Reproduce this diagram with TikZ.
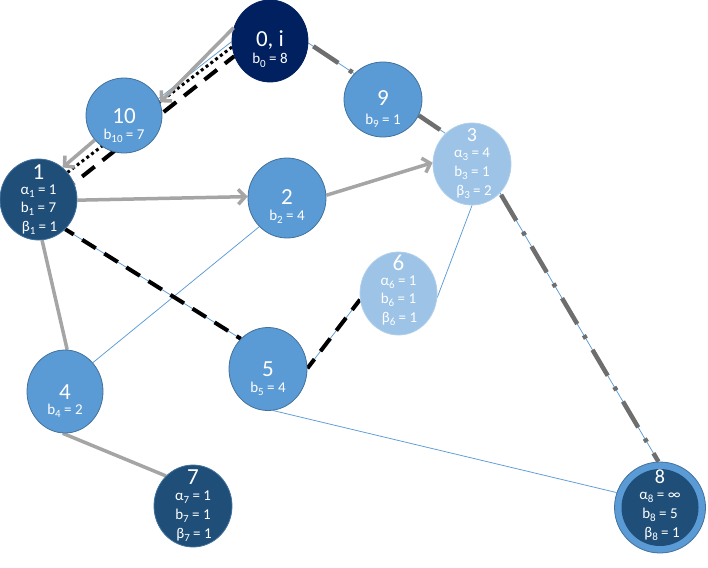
\documentclass[tikz,border=0pt]{standalone}
\usepackage{fontspec}
\setmainfont{Carlito}
\usetikzlibrary{arrows.meta,shapes.geometric,calc}
\definecolor{navy}{HTML}{002060}
\definecolor{dblue}{HTML}{1F4E79}
\definecolor{mblue}{HTML}{5B9BD5}
\definecolor{lblue}{HTML}{9DC3E6}
\definecolor{bord}{HTML}{41719C}
\definecolor{grayl}{HTML}{A5A5A5}
\definecolor{dgray}{HTML}{6E6E6E}
\pgfdeclarelayer{bg}
\pgfsetlayers{bg,main}
\newcommand\sbs[1]{\raisebox{-0.22em}{\fontsize{11}{11}\selectfont #1}}
\begin{document}
\begin{tikzpicture}[x=1pt,y=-1pt,
  nd/.style={ellipse, draw=bord, line width=0.8pt, minimum width=77pt, minimum height=81pt, inner sep=0pt},
  big/.style={anchor=base, text=white, font=\fontsize{23}{23}\selectfont, inner sep=0pt},
  bigs/.style={anchor=base, text=white, font=\fontsize{20}{20}\selectfont, inner sep=0pt},
  sm/.style={anchor=base, text=white, font=\fontsize{15}{15}\selectfont, inner sep=0pt},
  thinb/.style={draw=mblue, line width=0.75pt},
  garrow/.style={draw=grayl, line width=3.5pt, -{Straight Barb[length=7pt,width=15pt]}},
  gline/.style={draw=grayl, line width=3.5pt},
  bdash/.style={draw=black, line width=4pt, dash pattern=on 16pt off 10pt},
  bdot/.style={draw=black, line width=3pt, dash pattern=on 3pt off 3pt},
  ddash/.style={draw=dgray, line width=4.5pt, dash pattern=on 30pt off 13pt on 4pt off 13pt},
]
\useasboundingbox (0,0) rectangle (708,567);
\clip (0,0) rectangle (708,567);

% nodes
\node[nd, fill=navy, draw=navy, minimum width=76pt, minimum height=82pt] (n0) at (270,41) {};
\node[big] (t0) at (270,46.5) {0, i};
\node[sm] (s0) at (270,64) {b\sbs{0} = 8};

\node[nd, fill=mblue, minimum width=76pt, minimum height=75pt] (n10) at (124,115.5) {};
\node[big] (t10) at (124,123) {10};
\node[sm] (s10) at (124,139) {b\sbs{10} = 7};

\node[nd, fill=mblue, minimum width=78pt, minimum height=75pt] (n9) at (383,99.5) {};
\node[big] (t9) at (383,106) {9};
\node[sm] (s9) at (383,124) {b\sbs{9} = 1};

\node[nd, fill=dblue] (n1) at (38.5,199.5) {};
\node[big] (t1) at (38.5,179) {1};
\node[sm] (a1) at (38.5,194) {α\sbs{1} = 1};
\node[sm] (b1) at (38.5,212) {b\sbs{1} = 7};
\node[sm] (c1) at (39.5,231) {β\sbs{1} = 1};

\node[nd, fill=mblue, minimum width=78pt, minimum height=80pt] (n2) at (287,198) {};
\node[big] (t2) at (287,204) {2};
\node[sm] (s2) at (287,220.5) {b\sbs{2} = 4};

\node[nd, fill=lblue, draw=lblue!80!white, minimum width=78pt, minimum height=82pt] (n3) at (472,164) {};
\node[bigs] (t3) at (472,141) {3};
\node[sm] (a3) at (472,157) {α\sbs{3} = 4};
\node[sm] (b3) at (472,176.5) {b\sbs{3} = 1};
\node[sm] (c3) at (474,195.5) {β\sbs{3} = 2};

\node[nd, fill=lblue, draw=lblue!80!white, minimum height=83pt] (n6) at (398.5,293.5) {};
\node[big] (t6) at (398.5,270) {6};
\node[sm] (a6) at (398.5,285) {α\sbs{6} = 1};
\node[sm] (b6) at (398.5,303.5) {b\sbs{6} = 1};
\node[sm] (c6) at (399.5,322) {β\sbs{6} = 1};

\node[nd, fill=mblue, minimum width=78pt, minimum height=83pt] (n5) at (268,369) {};
\node[big] (t5) at (268,376) {5};
\node[sm] (s5) at (268,392) {b\sbs{5} = 4};

\node[nd, fill=mblue, minimum width=76pt, minimum height=83pt] (n4) at (65,391.5) {};
\node[big] (t4) at (65,399) {4};
\node[sm] (s4) at (65,414) {b\sbs{4} = 2};

\node[nd, fill=dblue, minimum width=78pt, minimum height=82pt] (n7) at (193,506) {};
\node[big] (t7) at (193,484) {7};
\node[sm] (a7) at (193,500.5) {α\sbs{7} = 1};
\node[sm] (b7) at (193,519) {b\sbs{7} = 1};
\node[sm] (c7) at (194,538) {β\sbs{7} = 1};

\node[nd, fill=mblue, minimum width=91pt, minimum height=91pt] (n8) at (660,507.5) {};
\node[circle, fill=dblue, minimum size=77pt, inner sep=0pt] (n8i) at (660,507.5) {};
\node[bigs] (t8) at (660,483) {8};
\node[sm] (a8) at (660,499) {α\sbs{8} = ∞};
\node[sm] (b8) at (660,518) {b\sbs{8} = 5};
\node[sm] (c8) at (662,537) {β\sbs{8} = 1};

% connectors
\begin{pgfonlayer}{bg}
\draw[thinb] (n0.181.5) -- (n10.26);
\draw[thinb] (n1.359) -- (n2.178.5);
\draw[thinb] (n0.-3) -- (n9.138.5);
\draw[thinb] (n9.-24) -- (n3.131);
\draw[thinb] (n3.-46) -- (n8.92.6);
\draw[thinb] (n3.270) -- (n6.-6.7);
\draw[thinb] (n6.189.6) -- (n5.1.5);
\draw[thinb] (n1.-48.6) -- (n5.132);
\draw[thinb] (n2.226) -- (n4.46.5);
\draw[thinb] (n5.-83) -- (n8.161);

\draw[bdot] (n0.189) -- (n1.43);
\draw[bdash, dash phase=4pt] (n0.203) -- (n1.25.6);
\draw[bdash, dash phase=6pt] (n1.-48.6) -- (n5.132);
\draw[bdash, dash phase=3pt] (n6.189.6) -- (n5.1.5);
\draw[ddash, dash phase=-6pt] (n0.-3) -- (n9.138.5);
\draw[ddash] (n9.-24) -- ($(n9.-24)!0.8!(n3.131)$);
\draw[ddash, dash phase=-2pt] (n3.-46) -- (n8.92.6);

\draw[gline] (n1.-85) -- (n4.87);
\draw[gline] (n4.267) -- (n7.132);
\end{pgfonlayer}

\draw[garrow] (n0.160.6) -- (n10.20.7);
\draw[garrow] (n10.220) -- (n1.53);
\draw[garrow] (n1.359) -- (n2.178.5);
\draw[garrow] (n2.4.5) -- (n3.178.5);
\end{tikzpicture}
\end{document}
